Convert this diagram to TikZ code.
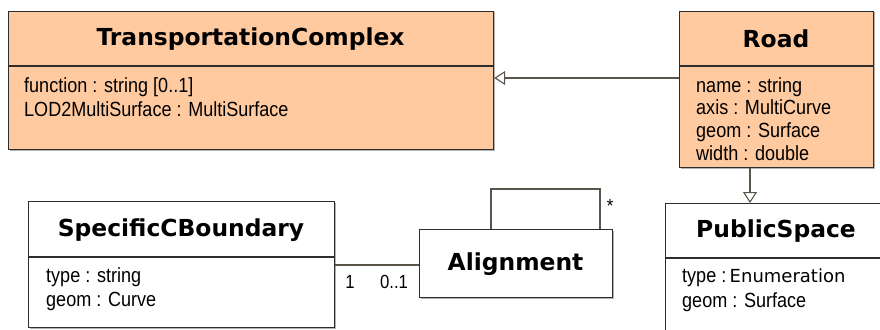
\documentclass[tikz,border=0pt]{standalone}
\usepackage{fontspec}
\setmainfont{Liberation Sans}[FakeStretch=0.88]
\newfontfamily\titlefont{DejaVu Sans}
\newfontfamily\enumfont{DejaVu Sans}
\usetikzlibrary{arrows.meta}
\definecolor{peach}{RGB}{255,202,160}
\definecolor{edge}{RGB}{45,45,45}
\definecolor{conn}{RGB}{90,85,75}
\tikzset{
  cls/.style={draw=edge, line width=1.2pt, rectangle, anchor=north west, inner sep=0pt},
  shadowbox/.style={fill=black!30},
  ttl/.style={font=\titlefont\bfseries\fontsize{23.4}{25}\selectfont, inner sep=0pt},
  attr/.style={font=\fontsize{20.5}{24.5}\selectfont, align=left, anchor=north west, inner sep=0pt},
  mult/.style={font=\fontsize{19}{20}\selectfont, inner sep=0pt},
  gen/.style={draw=conn, line width=1.1pt, -{Triangle[open, length=11pt, width=14pt, fill=white]}},
  assoc/.style={draw=conn, line width=1.1pt},
}
\begin{document}
\begin{tikzpicture}[x=1pt,y=-1pt]
\clip (0,0) rectangle (880,329);
\fill[white] (0,0) rectangle (880,329);
% shadows
\fill[shadowbox] (9.5,12.5) rectangle (494.5,150.5);
\fill[shadowbox] (680.5,12.5) rectangle (874.5,168.5);
\fill[shadowbox] (29.5,202.5) rectangle (335.5,329);
\fill[shadowbox] (420.5,230.5) rectangle (613.5,298.5);
% TransportationComplex
\node[cls, fill=peach, minimum width=485pt, minimum height=138pt] (tc) at (8,11) {};
\draw[edge, line width=1.2pt] (8,66) -- (493,66);
\node[ttl] (tct) at (250.5,39) {TransportationComplex};
\node[attr] (tca) at (24,77) {function : string [0..1]\\LOD2MultiSurface : MultiSurface};
% Road
\node[cls, fill=peach, minimum width=194pt, minimum height=156pt] (road) at (679,11) {};
\draw[edge, line width=1.2pt] (679,66) -- (873,66);
\node[ttl] (roadt) at (776,39) {Road};
\node[attr, font=\fontsize{20.5}{22.7}\selectfont] (roada) at (696,77) {name : string\\axis : MultiCurve\\geom : Surface\\width : double};
% SpecificCBoundary
\node[cls, fill=white, minimum width=306pt, minimum height=126pt] (scb) at (28,201) {};
\draw[edge, line width=1.2pt] (28,257) -- (334,257);
\node[ttl] (scbt) at (181,230) {SpecificCBoundary};
\node[attr] (scba) at (46,267) {type : string\\geom : Curve};
% Alignment
\node[cls, fill=white, minimum width=193pt, minimum height=68pt] (al) at (419,229) {};
\node[ttl] (alt) at (515.5,264) {Alignment};
% PublicSpace
\node[cls, fill=white, minimum width=240pt, minimum height=160pt] (ps) at (665,203) {};
\draw[edge, line width=1.2pt] (665,258) -- (905,258);
\node[ttl] (pst) at (776,231) {PublicSpace};
\node[attr] (psa) at (682,269) {type :\,{\enumfont\fontsize{18}{24.5}\selectfont Enumeration}\\geom : Surface};
% connectors
\coordinate (g1) at (0,78);
\draw[gen] (road.west |- g1) -- (tc.east |- g1);
\coordinate (g2) at (750,0);
\draw[gen] (road.south -| g2) -- (ps.north -| g2);
\coordinate (a1) at (0,265);
\draw[assoc] (scb.east |- a1) -- (al.west |- a1);
\coordinate (l1) at (491,0);
\coordinate (l2) at (600,0);
\coordinate (ltop) at (0,189);
\draw[assoc] (al.north -| l1) -- (l1 |- ltop) -- (l2 |- ltop) -- (al.north -| l2);
\node[mult] (m1) at (350,282) {1};
\node[mult] (m2) at (394,282) {0..1};
\node[mult] (m3) at (610,206) {*};
\end{tikzpicture}
\end{document}
